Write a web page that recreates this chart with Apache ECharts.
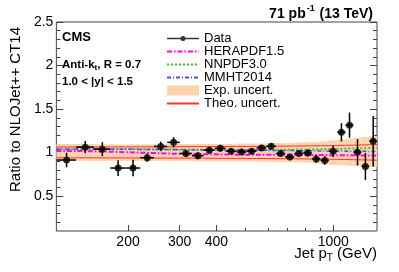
<!DOCTYPE html>
<html>
<head>
<meta charset="utf-8">
<script src="https://cdn.jsdelivr.net/npm/echarts@6/dist/echarts.min.js"></script>
<style>html,body{margin:0;padding:0;background:#fff}#c{width:399px;height:272px}</style>
</head>
<body>
<div id="c"></div>
<script>
// Jet pT bin edges (GeV)
var binEdges = [114,133,153,174,196,220,245,272,300,330,362,395,430,468,507,548,592,638,686,737,790,846,905,967,1032,1101,1172,1248,1327,1410];
// Data / NLOJet++ CT14
var dataRatio = [0.915,1.063,1.04,0.823,0.823,0.942,1.071,1.118,0.991,0.965,1.028,1.05,1.017,1.008,1.017,1.054,1.073,0.99,0.95,0.99,0.996,0.928,0.911,1.015,1.234,1.315,1.004,0.842,1.13];
var dataErr = [0.083,0.07,0.08,0.09,0.095,0.048,0.054,0.058,0.04,0.04,0.04,0.038,0.035,0.035,0.035,0.035,0.038,0.035,0.038,0.038,0.04,0.045,0.05,0.065,0.105,0.145,0.15,0.155,0.29];
// PDF ratios
var herapdf = [1.02,1.015,1.01,1.005,1.0,0.995,0.99,0.985,0.982,0.98,0.98,0.978,0.977,0.977,0.976,0.976,0.975,0.975,0.974,0.973,0.972,0.972,0.971,0.97,0.97,0.97,0.968,0.968,0.968];
var nnpdf = [1.045,1.044,1.043,1.042,1.04,1.038,1.036,1.035,1.034,1.033,1.032,1.031,1.03,1.03,1.03,1.031,1.032,1.033,1.034,1.036,1.038,1.04,1.042,1.044,1.046,1.048,1.05,1.052,1.054];
var mmht = [1.04,1.04,1.039,1.038,1.037,1.036,1.035,1.034,1.033,1.032,1.031,1.03,1.029,1.028,1.027,1.026,1.025,1.024,1.023,1.022,1.021,1.02,1.019,1.018,1.017,1.016,1.015,1.014,1.013];
// Experimental uncertainty band
var expUp = [1.10,1.10,1.095,1.095,1.095,1.095,1.10,1.10,1.10,1.10,1.10,1.10,1.10,1.105,1.105,1.105,1.11,1.11,1.11,1.115,1.12,1.12,1.13,1.14,1.15,1.16,1.17,1.18,1.19];
var expDown = [0.905,0.905,0.905,0.905,0.905,0.905,0.905,0.905,0.905,0.90,0.90,0.90,0.90,0.90,0.90,0.895,0.895,0.89,0.89,0.89,0.885,0.88,0.87,0.86,0.855,0.85,0.845,0.84,0.835];
// Theory uncertainty
var theoUp = [1.065,1.065,1.066,1.066,1.067,1.067,1.068,1.068,1.069,1.069,1.07,1.07,1.071,1.071,1.072,1.073,1.074,1.075,1.076,1.077,1.078,1.079,1.08,1.082,1.084,1.086,1.088,1.09,1.092];
var theoDown = [0.94,0.94,0.939,0.939,0.938,0.938,0.937,0.937,0.936,0.936,0.935,0.935,0.934,0.934,0.933,0.932,0.931,0.93,0.929,0.928,0.927,0.926,0.925,0.923,0.921,0.919,0.917,0.915,0.913];
// Axis ticks
var xLabelTicks = [200,300,400,1000];
var xMinorTicks = [500,600,700,800,900];
var yLabelTicks = [0.5,1,1.5,2,2.5];
var yMinorTicks = [0.2,0.3,0.4,0.6,0.7,0.8,0.9,1.1,1.2,1.3,1.4,1.6,1.7,1.8,1.9,2.1,2.2,2.3,2.4];

var FONT = 'Liberation Sans, Arial, Helvetica, sans-serif';
var n = dataRatio.length;
var points = [], errItems = [], bandItems = [];
for (var i = 0; i < n; i++) {
  var c = (binEdges[i] + binEdges[i+1]) / 2;
  points.push([c, dataRatio[i]]);
  errItems.push([c, dataRatio[i], dataErr[i], binEdges[i], binEdges[i+1]]);
  bandItems.push([binEdges[i], binEdges[i+1], expDown[i], expUp[i]]);
}
function stepData(vals) {
  var out = [];
  for (var i = 0; i < vals.length; i++) out.push([binEdges[i], vals[i]]);
  out.push([binEdges[vals.length], vals[vals.length-1]]);
  return out;
}
function lineSeries(name, vals, color, width, type, z) {
  return {
    name: name, type: 'line', data: stepData(vals), step: 'end',
    symbol: 'none', showSymbol: false, z: z,
    lineStyle: {color: color, width: width, type: type},
    itemStyle: {color: color}, silent: true
  };
}

var xBase = {type: 'log', logBase: 10, min: 114, max: 1410, gridIndex: 0,
  axisLine: {show: false}, splitLine: {show: false}};
var yBase = {type: 'value', min: 0.1, max: 2.5, gridIndex: 0,
  axisLine: {show: false}, splitLine: {show: false}};

var noSym = {opacity: 0};
var chart = echarts.init(document.getElementById('c'), null, {renderer: 'canvas'});
chart.setOption({
  animation: false,
  backgroundColor: '#fff',
  textStyle: {fontFamily: FONT},
  grid: {left: 56, right: 22, top: 22, bottom: 41, show: true, borderColor: '#444', borderWidth: 1, backgroundColor: 'transparent'},
  title: [
    {text: '{b|71 pb}{sup|-1}{b| (13 TeV)}', right: 26, top: 4, padding: 0,
     textStyle: {rich: {
       b: {fontSize: 14, fontWeight: 'bold', fontFamily: FONT, color: '#000', verticalAlign: 'top', padding: [3,0,0,0]},
       sup: {fontSize: 9, fontWeight: 'bold', fontFamily: FONT, color: '#000', verticalAlign: 'top', padding: [0,1,0,1]}
     }}},
    {text: 'CMS', left: 62, top: 31, padding: 0,
     textStyle: {fontSize: 13, fontWeight: 'bold', fontFamily: FONT, color: '#000'}},
    {text: '{b|Anti-k}{s|t}{b|, R = 0.7}', left: 62, top: 59, padding: 0,
     textStyle: {rich: {
       b: {fontSize: 11.5, fontWeight: 'bold', fontFamily: FONT, color: '#000', verticalAlign: 'top'},
       s: {fontSize: 8, fontWeight: 'bold', fontFamily: FONT, color: '#000', verticalAlign: 'top', padding: [5,0,0,0]}
     }}},
    {text: '1.0 < |y| < 1.5', left: 62, top: 76, padding: 0,
     textStyle: {fontSize: 11.5, fontWeight: 'bold', fontFamily: FONT, color: '#000'}}
  ],
  legend: {
    orient: 'vertical', left: 166, top: 32, padding: 0,
    itemWidth: 32, itemHeight: 10, itemGap: 0,
    selectedMode: false,
    textStyle: {fontSize: 13, lineHeight: 12.7, color: '#000', fontFamily: FONT},
    data: [
      {name: 'Data', icon: 'path://M0,0 M0,10 M0,4.3 L32,4.3 L32,5.7 L0,5.7 Z M13.5,5 A2.5,2.5 0 1 1 18.5,5 A2.5,2.5 0 1 1 13.5,5 Z'},
      {name: 'HERAPDF1.5', itemStyle: noSym},
      {name: 'NNPDF3.0', itemStyle: noSym},
      {name: 'MMHT2014', itemStyle: noSym},
      {name: 'Exp. uncert.', icon: 'rect'},
      {name: 'Theo. uncert.', itemStyle: noSym}
    ]
  },
  xAxis: [
    Object.assign({}, xBase, {
      position: 'bottom',
      axisTick: {show: true, inside: true, length: 6, customValues: xLabelTicks, lineStyle: {color: '#444'}},
      axisLabel: {show: true, customValues: xLabelTicks, fontSize: 14, color: '#000', margin: 4, fontFamily: FONT,
        formatter: function (v) { return String(Math.round(v)); }},
      name: '{m|Jet p}{s|T}{m| (GeV)}', nameLocation: 'middle', nameGap: 15, nameMoveOverlap: false,
      nameTextStyle: {align: 'center', verticalAlign: 'top', padding: [0,0,0,238], rich: {
        m: {fontSize: 15, color: '#000', fontFamily: FONT, verticalAlign: 'top'},
        s: {fontSize: 10, color: '#000', fontFamily: FONT, verticalAlign: 'top', padding: [7,0,0,0]}
      }}
    }),
    Object.assign({}, xBase, {
      position: 'bottom',
      axisTick: {show: true, inside: true, length: 3, customValues: xMinorTicks, lineStyle: {color: '#444'}},
      axisLabel: {show: false}
    })
  ],
  yAxis: [
    Object.assign({}, yBase, {
      position: 'left',
      axisTick: {show: true, inside: true, length: 7, customValues: yLabelTicks, lineStyle: {color: '#444'}},
      axisLabel: {show: true, customValues: yLabelTicks, fontSize: 14, color: '#000', margin: 3, fontFamily: FONT},
      name: 'Ratio to NLOJet++ CT14', nameLocation: 'middle', nameGap: 30,
      nameTextStyle: {fontSize: 15, color: '#000', fontFamily: FONT, padding: [0,0,0,34]}
    }),
    Object.assign({}, yBase, {
      position: 'left',
      axisTick: {show: true, inside: true, length: 4, customValues: yMinorTicks, lineStyle: {color: '#444'}},
      axisLabel: {show: false}
    }),
    Object.assign({}, yBase, {
      position: 'right',
      axisTick: {show: true, inside: true, length: 7, customValues: yLabelTicks, lineStyle: {color: '#444'}},
      axisLabel: {show: false}
    }),
    Object.assign({}, yBase, {
      position: 'right',
      axisTick: {show: true, inside: true, length: 4, customValues: yMinorTicks, lineStyle: {color: '#444'}},
      axisLabel: {show: false}
    })
  ],
  series: [
    {
      name: 'Exp. uncert.', type: 'custom', z: 1, silent: true,
      itemStyle: {color: '#fdd3ab'},
      encode: {x: [0, 1], y: [2, 3]},
      data: bandItems,
      renderItem: function (params, api) {
        var p1 = api.coord([api.value(0), api.value(3)]);
        var p2 = api.coord([api.value(1), api.value(2)]);
        return {type: 'rect', shape: {x: p1[0], y: p1[1], width: p2[0]-p1[0], height: p2[1]-p1[1]},
          style: {fill: '#fdd3ab'}};
      }
    },
    lineSeries('Theo. uncert.', theoUp, '#ff3030', 1, 'solid', 2),
    lineSeries('Theo. uncert.', theoDown, '#ff3030', 1, 'solid', 2),
    lineSeries('HERAPDF1.5', herapdf, '#ff00ff', 2, [5,2,1.5,2], 3),
    lineSeries('NNPDF3.0', nnpdf, '#33cc33', 2, [2,2], 3),
    lineSeries('MMHT2014', mmht, '#4a4aff', 1.5, [4,2,1,2], 3),
    {
      name: 'errors', type: 'custom', z: 4, silent: true,
      encode: {x: [0, 3, 4], y: 1},
      data: errItems,
      renderItem: function (params, api) {
        var c = api.value(0), y = api.value(1), e = api.value(2);
        var l = api.coord([api.value(3), y]);
        var r = api.coord([api.value(4), y]);
        var t = api.coord([c, y + e]);
        var b = api.coord([c, y - e]);
        return {type: 'group', children: [
          {type: 'line', shape: {x1: l[0], y1: l[1], x2: r[0], y2: r[1]}, style: {stroke: '#000', lineWidth: 1.5}},
          {type: 'line', shape: {x1: t[0], y1: t[1], x2: b[0], y2: b[1]}, style: {stroke: '#000', lineWidth: 1.5}}
        ]};
      }
    },
    {
      name: 'Data', type: 'scatter', z: 5, silent: true,
      symbol: 'circle', symbolSize: 7,
      itemStyle: {color: '#000'},
      data: points
    }
  ]
});
</script>
</body>
</html>
